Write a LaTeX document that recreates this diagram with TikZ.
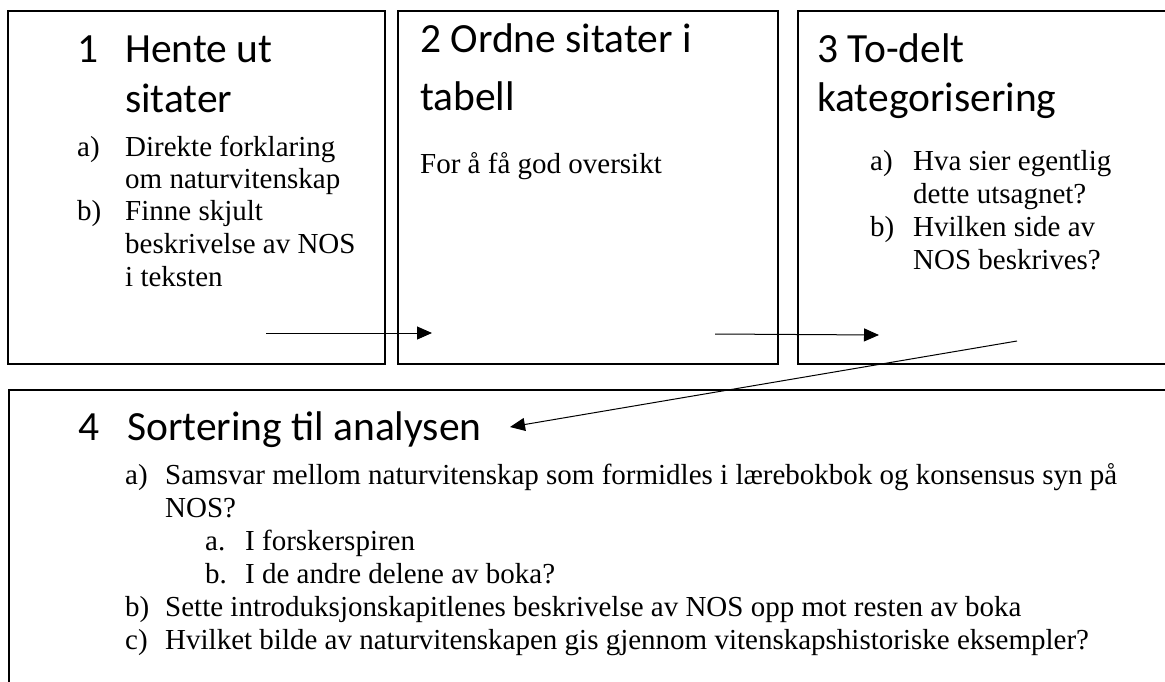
\documentclass[tikz,border=0pt]{standalone}
\usepackage{fontspec}
\setmainfont{Liberation Serif}
\newfontfamily\headfont{Carlito}
\usetikzlibrary{arrows.meta}
\tikzset{
  box/.style={draw, rectangle, line width=2.2pt, anchor=north west, inner sep=0pt},
  head/.style={anchor=base west, inner sep=0pt, font=\headfont\fontsize{41.5}{50}\selectfont},
  item/.style={anchor=base west, inner sep=0pt, font=\fontsize{29}{33}\selectfont},
  flow/.style={-{Triangle[length=15pt,width=13pt]}, line width=1pt}
}
\begin{document}
\begin{tikzpicture}[x=1pt, y=-1pt]
      \clip (0,0) rectangle (1165,681);
      \fill[white] (0,0) rectangle (1165,681);
      % the four boxes
      \node (box1) at (7,10) [box, minimum width=377pt, minimum height=353pt] {};
      \node (box2) at (397,10) [box, minimum width=380pt, minimum height=353pt] {};
      \node (box3) at (797,10) [box, minimum width=420pt, minimum height=353pt] {};
      \node (box4) at (8,389) [box, minimum width=1200pt, minimum height=340pt] {};
      % box 1
      \node (n1) at (77,62) [head] {1};
      \node (h1) at (125,62) [head] {Hente ut};
      \node (h1b) at (125,112) [head] {sitater};
      \node (l1a) at (77,156) [item] {a)};
      \node (t1a) at (125,156) [item] {Direkte forklaring};
      \node (t1a2) at (125,188) [item] {om naturvitenskap};
      \node (l1b) at (77,220) [item] {b)};
      \node (t1b) at (125,220) [item] {Finne skjult};
      \node (t1b2) at (125,253) [item] {beskrivelse av NOS};
      \node (t1b3) at (125,286) [item] {i teksten};
      % box 2
      \node (h2) at (420,52) [head] {2 Ordne sitater i};
      \node (h2b) at (420,110) [head] {tabell};
      \node (t2) at (420,173) [item] {For å få god oversikt};
      % box 3
      \node (h3) at (817,62) [head] {3 To-delt};
      \node (h3b) at (817,111) [head] {kategorisering};
      \node (l3a) at (870,170) [item] {a)};
      \node (t3a) at (913,170) [item] {Hva sier egentlig};
      \node (t3a2) at (913,203) [item] {dette utsagnet?};
      \node (l3b) at (870,236) [item] {b)};
      \node (t3b) at (913,236) [item] {Hvilken side av};
      \node (t3b2) at (913,269) [item] {NOS beskrives?};
      % box 4
      \node (n4) at (78,440) [head] {4};
      \node (h4) at (127,440) [head] {Sortering til analysen};
      \node (l4a) at (125,484) [item] {a)};
      \node (t4a) at (165,484) [item] {Samsvar mellom naturvitenskap som formidles i lærebokbok og konsensus syn på};
      \node (t4a2) at (165,517) [item] {NOS?};
      \node (l4aa) at (205,550) [item] {a.};
      \node (t4aa) at (245,550) [item] {I forskerspiren};
      \node (l4ab) at (205,583) [item] {b.};
      \node (t4ab) at (245,583) [item] {I de andre delene av boka?};
      \node (l4b) at (125,616) [item] {b)};
      \node (t4b) at (165,616) [item] {Sette introduksjonskapitlenes beskrivelse av NOS opp mot resten av boka};
      \node (l4c) at (125,649) [item] {c)};
      \node (t4c) at (165,649) [item] {Hvilket bilde av naturvitenskapen gis gjennom vitenskapshistoriske eksempler?};
      % arrows
      \coordinate (s1) at (266,333);
      \coordinate (e1) at (432,333);
      \coordinate (s2) at (715,334);
      \coordinate (e2) at (879,335);
      \coordinate (s3) at (1017,341);
      \coordinate (e3) at (510,427);
      \foreach \source/\dest in {s1/e1, s2/e2, s3/e3}
        \draw[flow] (\source) -- (\dest);
    \end{tikzpicture}
\end{document}
